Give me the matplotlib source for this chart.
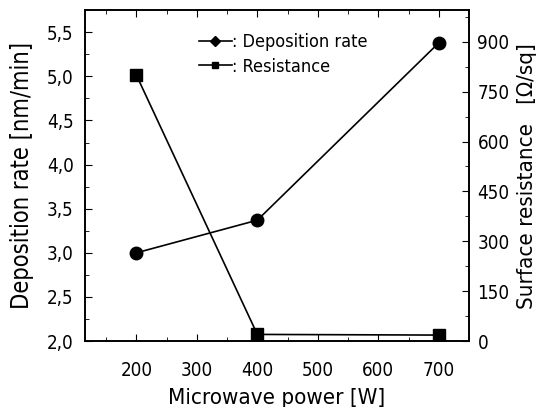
import matplotlib
matplotlib.use("Agg")
import matplotlib.pyplot as plt
from matplotlib.lines import Line2D
from matplotlib.ticker import MultipleLocator, FuncFormatter

# -------------------------------
# DATA
# -------------------------------
power = [200, 400, 700]  # Microwave power [W]
deposition_rate = [3.00, 3.37, 5.38]  # nm/min
resistance = [800, 20, 18]  # Ohm/sq

plt.rcParams['font.family'] = ['DejaVu Sans']
plt.rcParams['font.stretch'] = 'condensed'

fig = plt.figure(figsize=(5.41, 4.07), dpi=100)
ax = fig.add_axes([0.157, 0.162, 0.71, 0.813])
ax2 = ax.twinx()

ax.plot(power, deposition_rate, color='black', lw=1.2, marker='o', markersize=9)
ax2.plot(power, resistance, color='black', lw=1.2, marker='s', markersize=9)

ax.set_xlim(115, 750)
ax.set_ylim(2.0, 5.75)
ax2.set_ylim(0, 995)

ax.xaxis.set_major_locator(MultipleLocator(100))
ax.xaxis.set_minor_locator(MultipleLocator(50))
ax.yaxis.set_major_locator(MultipleLocator(0.5))
ax.yaxis.set_minor_locator(MultipleLocator(0.25))
ax2.yaxis.set_major_locator(MultipleLocator(150))
ax2.yaxis.set_minor_locator(MultipleLocator(75))
ax.yaxis.set_major_formatter(FuncFormatter(lambda v, p: f"{v:.1f}".replace('.', ',')))

ax.tick_params(which='both', direction='in', top=True, labelsize=13.5)
ax.tick_params(axis='x', which='major', pad=14)
ax.tick_params(axis='y', which='major', pad=8)
ax.tick_params(which='major', length=5)
ax.tick_params(which='minor', length=3)
ax2.tick_params(which='both', direction='in', labelsize=13.5)
ax2.tick_params(which='major', length=5, pad=6)
ax2.tick_params(which='minor', length=3)

ax.set_xlabel("Microwave power [W]", fontsize=16, labelpad=6)
ax.set_ylabel("Deposition rate [nm/min]", fontsize=17, labelpad=9)
ax2.set_ylabel("Surface resistance   [Ω/sq]", fontsize=16, labelpad=5)

for a in (ax, ax2):
    for s in a.spines.values():
        s.set_linewidth(1.2)

handles = [
    Line2D([], [], color='black', lw=1.2, marker='D', markersize=5),
    Line2D([], [], color='black', lw=1.2, marker='s', markersize=5),
]
ax.legend(handles, [": Deposition rate", ": Resistance"], loc='upper left',
          bbox_to_anchor=(0.297, 0.93), frameon=False, fontsize=13,
          handlelength=1.8, handletextpad=0.0, labelspacing=0.35,
          borderpad=0, borderaxespad=0)

plt.savefig("out.png", dpi=100)
plt.close()
